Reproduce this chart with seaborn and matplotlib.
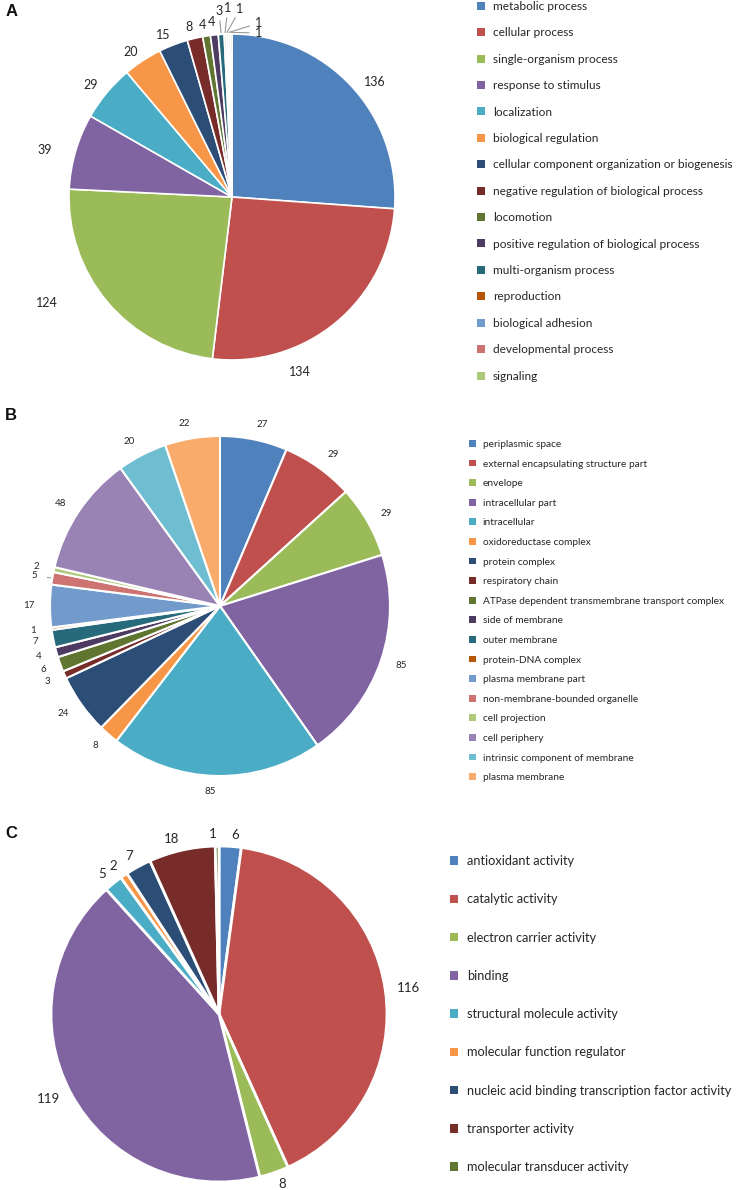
import numpy as np
import matplotlib
matplotlib.use("Agg")
import matplotlib.pyplot as plt
from matplotlib.patches import Patch
import seaborn as sns

# ---- data -------------------------------------------------------------
bp_terms = ["metabolic process", "cellular process", "single-organism process",
            "response to stimulus", "localization", "biological regulation",
            "cellular component organization or biogenesis",
            "negative regulation of biological process", "locomotion",
            "positive regulation of biological process", "multi-organism process",
            "reproduction", "biological adhesion", "developmental process",
            "signaling"]
bp_counts = [136, 134, 124, 39, 29, 20, 15, 8, 4, 4, 3, 1, 1, 1, 1]

cc_terms = ["periplasmic space", "external encapsulating structure part",
            "envelope", "intracellular part", "intracellular",
            "oxidoreductase complex", "protein complex", "respiratory chain",
            "ATPase dependent transmembrane transport complex",
            "side of membrane", "outer membrane", "protein-DNA complex",
            "plasma membrane part", "non-membrane-bounded organelle",
            "cell projection", "cell periphery",
            "intrinsic component of membrane", "plasma membrane"]
cc_counts = [27, 29, 29, 85, 85, 8, 24, 3, 6, 4, 7, 1, 17, 5, 2, 48, 20, 22]

mf_terms = ["antioxidant activity", "catalytic activity",
            "electron carrier activity", "binding",
            "structural molecule activity", "molecular function regulator",
            "nucleic acid binding transcription factor activity",
            "transporter activity", "molecular transducer activity"]
mf_counts = [6, 116, 8, 119, 5, 2, 7, 18, 1]

# Office-style palette
office = ["#4F81BD", "#C0504D", "#9BBB59", "#8064A2", "#4BACC6", "#F79646",
          "#2C4D75", "#772C2A", "#5F7530", "#4D3B62", "#276A7C", "#B65708",
          "#729ACA", "#CD7371", "#AFC97A", "#9983B5", "#6FBDD1", "#F9AB6B"]

# ---- layout -----------------------------------------------------------
W, H = 745, 1190
TXT = "#262626"

# manual label spots for panel A (radius units), Excel "best fit" style
bp_label_xy = [(0.877, 0.706), (0.417, -1.074), (-1.135, -0.650),
               (-1.147, 0.288), (-0.865, 0.687), (-0.620, 0.890),
               (-0.423, 0.994), (-0.264, 1.043), (-0.184, 1.055),
               (-0.123, 1.074), (-0.080, 1.141), (-0.025, 1.160),
               (0.049, 1.153), (0.165, 1.067), (0.165, 1.006)]
bp_leaders = [10, 11, 12, 13, 14]

sns.set_theme(style="white")
plt.rcParams["font.family"] = ["Lato", "DejaVu Sans"]

fig = plt.figure(figsize=(W / 100, H / 100), dpi=100)


def pie_axes(cx, cy, r, ext=1.4):
    ax = fig.add_axes([(cx - ext * r) / W, 1 - (cy + ext * r) / H,
                       2 * ext * r / W, 2 * ext * r / H])
    return ax


def draw_pie(ax, counts, colors, lw, fs, labeldist=1.1, label_xy=None,
             leaders=()):
    if label_xy is None:
        wedges, texts = ax.pie(counts, colors=colors, startangle=90,
                               counterclock=False, labels=[str(c) for c in counts],
                               labeldistance=labeldist,
                               textprops=dict(fontsize=fs, color=TXT),
                               wedgeprops=dict(edgecolor="white", linewidth=lw))
    else:
        wedges, _ = ax.pie(counts, colors=colors, startangle=90,
                           counterclock=False,
                           wedgeprops=dict(edgecolor="white", linewidth=lw))
        for c, (tx, ty) in zip(counts, label_xy):
            ax.text(tx, ty, str(c), fontsize=fs, color=TXT,
                    ha="center", va="center")
    for i in leaders:
        w = wedges[i]
        ang = np.deg2rad((w.theta1 + w.theta2) / 2)
        ex, ey = np.cos(ang) * 1.01, np.sin(ang) * 1.01
        if label_xy is not None:
            tx, ty = label_xy[i]
        else:
            tx, ty = np.cos(ang) * labeldist, np.sin(ang) * labeldist
        d = np.array([ex - tx, ey - ty])
        d = d / np.hypot(*d)
        sx, sy = tx + d[0] * 0.06, ty + d[1] * 0.06
        ax.plot([sx, ex], [sy, ey], color="#9a9a9a", lw=0.8)
    ax.set_xlim(-1.4, 1.4)
    ax.set_ylim(-1.4, 1.4)
    ax.set_aspect("equal")
    ax.axis("off")
    return wedges


def legend(terms, colors, x, y, fs, spacing):
    handles = [Patch(facecolor=c, edgecolor="none") for c in colors]
    fig.legend(handles, terms, loc="upper left",
               bbox_to_anchor=(x / W, 1 - y / H), frameon=False,
               fontsize=fs, labelspacing=spacing, handlelength=0.65,
               handleheight=0.65, handletextpad=0.7, borderpad=0,
               borderaxespad=0, labelcolor=TXT)


# Panel A
pal_a = sns.color_palette(office[:15])
ax_a = pie_axes(232, 197, 163)
draw_pie(ax_a, bp_counts, pal_a, lw=1.2, fs=9, label_xy=bp_label_xy,
         leaders=bp_leaders)
legend(bp_terms, pal_a, 477, 1, 8.6, 1.29)

# Panel B
pal_b = sns.color_palette(office[:18])
ax_b = pie_axes(220, 606, 170)
draw_pie(ax_b, cc_counts, pal_b, lw=1.5, fs=7, labeldist=1.09, leaders=[13])
legend(cc_terms, pal_b, 469, 440, 7.3, 1.045)

# Panel C
pal_c = sns.color_palette(office[:9])
ax_c = pie_axes(219, 1014, 168)
draw_pie(ax_c, mf_counts, pal_c, lw=2, fs=9.5, labeldist=1.07)
legend(mf_terms, pal_c, 450, 855, 9.2, 2.055)

for letter, (lx, ly) in zip("ABC", [(12, 11), (11, 415), (11, 833)]):
    fig.text(lx / W, 1 - ly / H, letter, fontsize=12, fontweight="bold",
             family="Liberation Sans", ha="center", va="center", color="#111111")

fig.savefig("out.png", dpi=100)
